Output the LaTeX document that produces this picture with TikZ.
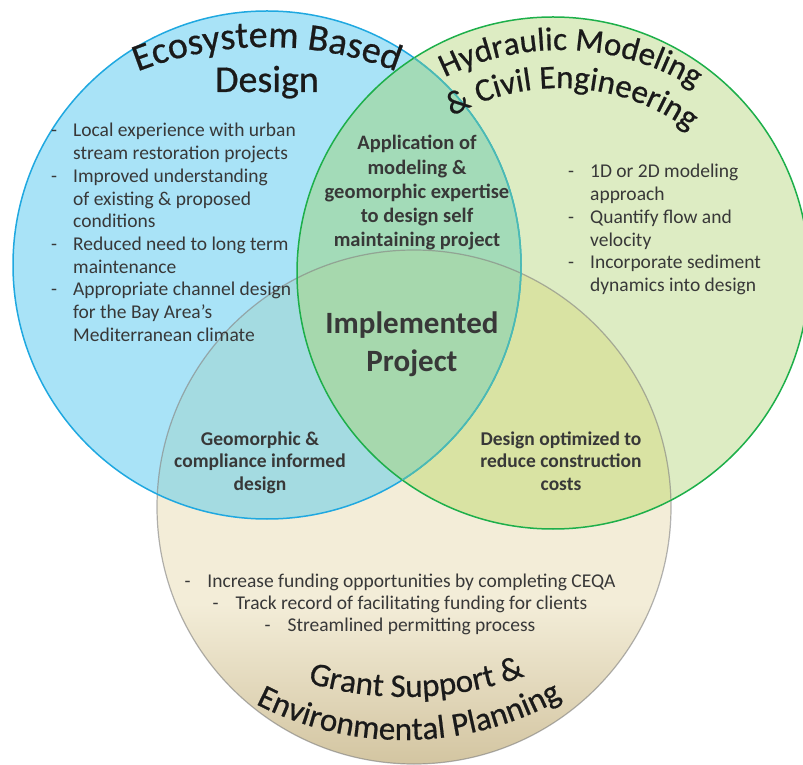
\documentclass[tikz,border=0pt]{standalone}
\usepackage{fontspec}
\setmainfont{Carlito}
\newfontfamily\titlefont{Carlito}[FakeBold=0.6]
\definecolor{colblue}{HTML}{A9E3F7}
\definecolor{colgreen}{HTML}{DDECC3}
\definecolor{coltanlight}{HTML}{F3EDD8}
\definecolor{coltandark}{HTML}{D3C5A1}
\definecolor{colbluegreen}{HTML}{A3DBB8}
\definecolor{colbluetan}{HTML}{A4DBE1}
\definecolor{colgreentan}{HTML}{D9E3A3}
\definecolor{colcenter}{HTML}{A6D8AD}
\definecolor{colblueline}{HTML}{1FA8E0}
\definecolor{colblueteal}{HTML}{4DBBB0}
\definecolor{colgreenline}{HTML}{1DAF4A}
\definecolor{coltext}{HTML}{383838}
\definecolor{coltitle}{HTML}{1A1A1A}
\newcommand{\bodysize}{\fontsize{19.5}{22.7}\selectfont}
\newcommand{\labelsize}{\fontsize{19.5}{22.5}\selectfont\bfseries}
\newcommand{\lenssize}{\fontsize{20.5}{24.25}\selectfont\bfseries}
\newcommand{\centersize}{\fontsize{31}{38}\selectfont\bfseries}
\newcommand{\bigtitlesize}{\titlefont\fontsize{38}{44}\selectfont}
\newcommand{\ecoCircle}{(eco) circle[radius=254pt]}
\newcommand{\hydCircle}{(hyd) circle[radius=256pt]}
\newcommand{\grantCircle}{(grant) circle[radius=257pt]}
% letters set one by one on an arc:
% #1 centre, #2 radius, #3 middle angle, #4 1 = over the top / -1 = under the bottom,
% #5 font size, #6 total advance (em), #7 letter/advance list
\newcommand{\arctext}[7]{%
	\foreach \ch/\w [remember=\nextpos as \pos (initially 0),
			evaluate=\w as \nextpos using \pos+\w] in {#7} {%
		\pgfmathsetmacro\chang{#3-(#4)*(\pos+0.5*\w-0.5*#6)*#5/#2*180/pi}%
		\pgfmathsetmacro\chrot{\chang-90*(#4)}%
		\node[title, rotate=\chrot, font={\titlefont\fontsize{#5}{#5}\selectfont}]
			at ([shift={(\chang:#2pt)}]#1) {\ch};
	}%
}
\tikzset{
	bullets/.style={anchor=base west, inner sep=0pt, text=coltext, font=\bodysize},
	overlap/.style={anchor=base, inner sep=0pt, text=coltext},
	title/.style={anchor=base, inner sep=0pt, text=coltitle},
	ecoline/.style={draw=colblueline, line width=1.5pt},
	hydline/.style={draw=colgreenline, line width=1.5pt},
	grantline/.style={draw=gray, draw opacity=0.6, line width=1.2pt}
}

\begin{document}
\begin{tikzpicture}[x=1pt, y=1pt]
	\useasboundingbox (0,0) rectangle (803,764);
	\coordinate (eco) at (267,499);
	\coordinate (hyd) at (553,491);
	\coordinate (grant) at (414,257);

	% discs and their overlaps
	\fill[colblue] \ecoCircle;
	\fill[colgreen] \hydCircle;
	\begin{scope}
		\clip \grantCircle;
		\fill[coltanlight] \grantCircle;
		\shade[top color=coltanlight, bottom color=coltandark] (150,0) rectangle (680,160);
	\end{scope}
	\begin{scope}
		\clip \ecoCircle;
		\fill[colbluegreen] \hydCircle;
		\fill[colbluetan] \grantCircle;
	\end{scope}
	\begin{scope}
		\clip \hydCircle;
		\fill[colgreentan] \grantCircle;
	\end{scope}
	\begin{scope}
		\clip \ecoCircle;
		\clip \hydCircle;
		\fill[colcenter] \grantCircle;
	\end{scope}

	% outlines
	\draw[grantline] \grantCircle;
	\draw[ecoline] \ecoCircle;
	\draw[hydline] \hydCircle;
	\begin{scope}
		\clip \hydCircle;
		\draw[ecoline, draw=colblueteal] \ecoCircle;
	\end{scope}

	% titles
	\coordinate (ecoArc) at (267,364);
	\coordinate (hydArc) at (560,458);
	\coordinate (grantArc) at (406,413);
	\coordinate (envArc) at (404,347);
	\arctext{ecoArc}{353}{90}{1}{38}{6.968}{E/.488,c/.423,o/.527,s/.391,y/.453,s/.391,t/.335,
		e/.498,m/.799,\ /.226,B/.544,a/.479,s/.391,e/.498,d/.525}
	\node[title, font=\bigtitlesize] (ecoTitle) at (267,672) {Design};
	\arctext{hydArc}{256}{87.5}{1}{33}{7.92}{H/.623,y/.453,d/.525,r/.349,a/.479,u/.525,l/.229,
		i/.229,c/.423,\ /.226,M/.855,o/.527,d/.525,e/.498,l/.229,i/.229,n/.525,g/.471}
	\arctext{hydArc}{218}{86.6}{1}{33}{7.614}{\&/.682,\ /.226,C/.533,i/.229,v/.452,i/.229,l/.229,
		\ /.226,E/.488,n/.525,g/.471,i/.229,n/.525,e/.498,e/.498,r/.349,i/.229,n/.525,g/.471}
	\arctext{grantArc}{346}{271.8}{-1}{33}{6.698}{G/.631,r/.349,a/.479,n/.525,t/.335,\ /.226,
		S/.459,u/.525,p/.525,p/.525,o/.527,r/.349,t/.335,\ /.226,\&/.682}
	\arctext{envArc}{323}{271}{-1}{33}{9.686}{E/.488,n/.525,v/.452,i/.229,r/.349,o/.527,n/.525,
		m/.799,e/.498,n/.525,t/.335,a/.479,l/.229,\ /.226,P/.517,l/.229,a/.479,n/.525,n/.525,
		i/.229,n/.525,g/.471}

	% bullet lists
	\node[bullets] (ecoList) at (51,627) {\begin{tabular}[t]{@{}l@{\hspace{16pt}}l@{}}
		-&Local experience with urban\\
		&stream restoration projects\\
		-&Improved understanding\\
		&of existing \& proposed\\
		&conditions\\
		-&Reduced need to long term\\
		&maintenance\\
		-&Appropriate channel design\\
		&for the Bay Area’s\\
		&Mediterranean climate
	\end{tabular}};
	\node[bullets] (hydList) at (568,586) {\begin{tabular}[t]{@{}l@{\hspace{16pt}}l@{}}
		-&1D or 2D modeling\\
		&approach\\
		-&Quantify flow and\\
		&velocity\\
		-&Incorporate sediment\\
		&dynamics into design
	\end{tabular}};
	\node[overlap, font=\bodysize] (grantList) at (400,177) {\begin{tabular}[t]{@{}c@{}}
		-\hspace{17pt}Increase funding opportunities by completing CEQA\\[-0.5pt]
		-\hspace{17pt}Track record of facilitating funding for clients\\[-0.5pt]
		-\hspace{17pt}Streamlined permitting process
	\end{tabular}};

	% overlap labels
	\node[overlap, font=\lenssize] (lensTop) at (417,614) {\begin{tabular}[t]{@{}c@{}}
		Application of\\ modeling \&\\ geomorphic expertise\\ to design self\\ maintaining project
	\end{tabular}};
	\node[overlap, font=\centersize] (lensCenter) at (412,430) {\begin{tabular}[t]{@{}c@{}}
		Implemented\\ Project
	\end{tabular}};
	\node[overlap, font=\labelsize] (lensLeft) at (260,319) {\begin{tabular}[t]{@{}c@{}}
		Geomorphic \&\\ compliance informed\\ design
	\end{tabular}};
	\node[overlap, font=\labelsize] (lensRight) at (561,319) {\begin{tabular}[t]{@{}c@{}}
		Design optimized to\\ reduce construction\\ costs
	\end{tabular}};
\end{tikzpicture}
\end{document}
